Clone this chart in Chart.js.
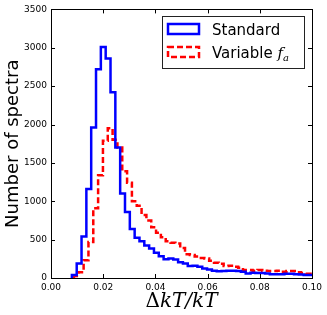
<!DOCTYPE html>
<html>
<head>
<meta charset="utf-8">
<script src="https://cdn.jsdelivr.net/npm/chart.js@4.4.1/dist/chart.umd.min.js"></script>
<style>
  html, body { margin: 0; padding: 0; background: #fff; }
  #wrap { width: 327px; height: 315px; }
</style>
</head>
<body>
<div id="wrap"><canvas id="canvas"></canvas></div>
<script>
// histogram bins (left edge of first bin, common bin width)
var binWidth = 0.00185;
var standardStart = 0.0080;
var variableStart = 0.0088;

// counts per bin
var standardCounts = [40, 190, 540, 1160, 1960, 2720, 3010, 2860, 2420, 1700,
  1100, 860, 640, 525, 480, 425, 385, 330, 285, 245,
  255, 240, 205, 190, 155, 160, 145, 125, 110, 95,
  88, 90, 95, 95, 90, 80, 60, 70, 65, 65,
  60, 50, 50, 50, 55, 55, 50, 45, 40, 40];
var variableCounts = [25, 75, 230, 470, 910, 1340, 1790, 1950, 1800, 1700,
  1390, 1240, 1000, 940, 820, 750, 660, 590, 530, 480,
  460, 450, 390, 310, 300, 280, 260, 255, 225, 200,
  185, 155, 160, 145, 135, 105, 105, 95, 105, 95,
  90, 90, 95, 80, 90, 90, 75, 65, 55, 50];

var seriesLabels = ['Standard', 'Variable'];
var xTicks = [0, 0.02, 0.04, 0.06, 0.08, 0.10];
var yTicks = [0, 500, 1000, 1500, 2000, 2500, 3000, 3500];

function stepPoints(start, counts) {
  var pts = [{x: start, y: 0}];
  counts.forEach(function(c, i) {
    pts.push({x: start + i * binWidth, y: c});
  });
  pts.push({x: start + counts.length * binWidth, y: 0});
  return pts;
}

// matplotlib-like frame with inward ticks, x label and legend
var framePlugin = {
  id: 'frame',
  afterDraw: function(chart) {
    var ctx = chart.ctx;
    var a = chart.chartArea;
    var xs = chart.scales.x, ys = chart.scales.y;
    ctx.save();
    ctx.strokeStyle = '#000';
    ctx.lineWidth = 1;
    ctx.beginPath();
    xTicks.forEach(function(t) {
      var px = Math.round(xs.getPixelForValue(t)) + 0.5;
      ctx.moveTo(px, a.bottom); ctx.lineTo(px, a.bottom - 4);
      ctx.moveTo(px, a.top); ctx.lineTo(px, a.top + 4);
    });
    yTicks.forEach(function(t) {
      var py = Math.round(ys.getPixelForValue(t)) + 0.5;
      ctx.moveTo(a.left, py); ctx.lineTo(a.left + 4, py);
      ctx.moveTo(a.right, py); ctx.lineTo(a.right - 4, py);
    });
    ctx.stroke();
    ctx.strokeRect(Math.round(a.left) + 0.5, Math.round(a.top) + 0.5,
      Math.round(a.right - a.left), Math.round(a.bottom - a.top));

    // x axis label: upright Delta, italic kT/kT
    ctx.fillStyle = '#000';
    ctx.textBaseline = 'alphabetic';
    var f1 = '20px "DejaVu Serif"', f2 = 'italic 20px "DejaVu Serif"';
    ctx.font = f1; var dw = ctx.measureText('Δ').width;
    ctx.font = f2; var kw = ctx.measureText('kT/kT').width;
    var cx = (a.left + a.right) / 2 - (dw + kw) / 2;
    ctx.font = f1; ctx.fillText('Δ', cx, 307);
    ctx.font = f2; ctx.fillText('kT/kT', cx + dw, 307);

    // legend
    var lx = 162, ly = 16, lw = 142, lh = 52;
    ctx.fillStyle = '#fff';
    ctx.fillRect(lx, ly, lw, lh);
    ctx.strokeStyle = '#222';
    ctx.strokeRect(lx + 0.5, ly + 0.5, lw, lh);

    ctx.lineWidth = 2.5;
    ctx.strokeStyle = '#0000ff';
    ctx.strokeRect(168, 24, 31, 10);
    ctx.strokeStyle = '#ff0000';
    ctx.setLineDash([6, 3]);
    ctx.strokeRect(168, 47, 31, 10);
    ctx.setLineDash([]);

    ctx.fillStyle = '#000';
    ctx.font = '15px "DejaVu Sans"';
    ctx.fillText(seriesLabels[0], 212, 35);
    ctx.fillText(seriesLabels[1], 212, 58);
    var w = ctx.measureText(seriesLabels[1] + ' ').width;
    ctx.font = 'italic 15px "DejaVu Serif"';
    ctx.fillText('f', 212 + w, 58);
    var fw = ctx.measureText('f').width;
    ctx.font = 'italic 10px "DejaVu Serif"';
    ctx.fillText('a', 212 + w + fw, 61);
    ctx.restore();
  }
};

var ctx = document.getElementById('canvas');
var myChart = new Chart(ctx, {
  type: 'line',
  data: {
    datasets: [{
      label: seriesLabels[0],
      data: stepPoints(standardStart, standardCounts),
      borderColor: '#0000ff',
      borderWidth: 2.5,
      stepped: 'before',
      pointRadius: 0,
      fill: false
    }, {
      label: seriesLabels[1],
      data: stepPoints(variableStart, variableCounts),
      borderColor: '#ff0000',
      borderWidth: 2.5,
      borderDash: [6, 3],
      stepped: 'before',
      pointRadius: 0,
      fill: false
    }]
  },
  options: {
    responsive: true,
    maintainAspectRatio: false,
    animation: false,
    layout: { padding: { top: 8, right: 15, left: 0, bottom: 0 } },
    plugins: { legend: { display: false }, tooltip: { enabled: false } },
    scales: {
      x: {
        type: 'linear',
        min: 0, max: 0.1,
        afterBuildTicks: function(s) { s.ticks = xTicks.map(function(v) { return {value: v}; }); },
        ticks: {
          color: '#000', padding: 4, maxRotation: 0,
          font: { family: 'DejaVu Sans', size: 9 },
          callback: function(v) { return v.toFixed(2); }
        },
        grid: { display: false, drawTicks: false },
        border: { display: false },
        afterFit: function(s) { s.height = 37; }
      },
      y: {
        min: 0, max: 3500,
        afterBuildTicks: function(s) { s.ticks = yTicks.map(function(v) { return {value: v}; }); },
        ticks: {
          color: '#000', padding: 4,
          font: { family: 'DejaVu Sans', size: 9 },
          callback: function(v) { return String(v); }
        },
        grid: { display: false, drawTicks: false },
        border: { display: false },
        title: {
          display: true, text: 'Number of spectra', color: '#000',
          font: { family: 'DejaVu Sans', size: 18 },
          padding: { top: 3, bottom: 1 }
        },
        afterFit: function(s) { s.width = 51; }
      }
    }
  },
  plugins: [framePlugin]
});
</script>
</body>
</html>
